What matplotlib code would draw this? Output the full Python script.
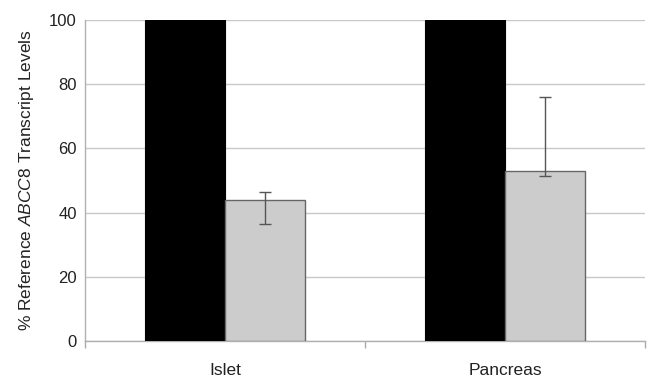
import matplotlib
matplotlib.use("Agg")
import matplotlib.pyplot as plt
from matplotlib.ticker import FixedLocator, NullFormatter

plt.rcParams['font.family'] = ['Liberation Sans', 'DejaVu Sans']
plt.rcParams['mathtext.fontset'] = 'custom'
plt.rcParams['mathtext.rm'] = 'Liberation Sans'
plt.rcParams['mathtext.it'] = 'Liberation Sans:italic'

categories = ["Islet", "Pancreas"]
reference_vals = [100, 100]
sample_vals = [44, 53]
sample_err_low = [36.5, 51.3]
sample_err_high = [46.5, 76.0]
yticks = [0, 20, 40, 60, 80, 100]

fig = plt.figure(figsize=(6.48, 3.83), dpi=100)
ax = fig.add_axes([85/648, 1-341/383, (645-85)/648, (341-20)/383])

centers = [i + 0.5 for i in range(len(categories))]
w = 0.286
xb = [c - w/2 for c in centers]
xg = [c + w/2 for c in centers]
ax.bar(xb, reference_vals, width=w, color='black', edgecolor='black', linewidth=0.8, zorder=3)
ax.bar(xg, sample_vals, width=w, color='#cccccc', edgecolor='#666666', linewidth=1.0, zorder=3)
yerr = [[v - lo for v, lo in zip(sample_vals, sample_err_low)],
        [hi - v for v, hi in zip(sample_vals, sample_err_high)]]
ax.errorbar(xg, sample_vals, yerr=yerr, fmt='none', ecolor='#555555', elinewidth=1.0,
            capsize=4, capthick=1.0, zorder=4)

ax.set_xlim(0, len(categories))
ax.set_ylim(0, 100)
ax.set_yticks(yticks)
ax.yaxis.grid(True, color='#c8c8c8', linewidth=1.0, zorder=0)
ax.set_axisbelow(True)
ax.tick_params(axis='y', length=0, pad=6, labelsize=12, labelcolor='#222222')

ax.xaxis.set_major_locator(FixedLocator(list(range(len(categories) + 1))))
ax.xaxis.set_major_formatter(NullFormatter())
ax.xaxis.set_minor_locator(FixedLocator(centers))
ax.set_xticklabels(categories, minor=True)
ax.tick_params(axis='x', which='major', length=5, color='#aaaaaa', width=1)
ax.tick_params(axis='x', which='minor', length=0, pad=16, labelsize=12.5, labelcolor='#222222')

for s in ['top', 'right']:
    ax.spines[s].set_visible(False)
for s in ['left', 'bottom']:
    ax.spines[s].set_color('#b0b0b0')
    ax.spines[s].set_linewidth(1.0)

ax.set_ylabel('% Reference $\\mathit{ABCC8}$ Transcript Levels', fontsize=12.5, color='#222222', labelpad=9)

fig.savefig('out.png', dpi=100)
